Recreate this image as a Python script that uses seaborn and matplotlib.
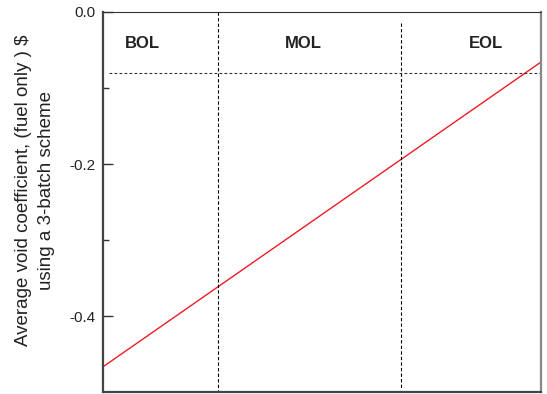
import numpy as np
import pandas as pd
import matplotlib
matplotlib.use("Agg")
import matplotlib.pyplot as plt
import seaborn as sns

# data (x in % of cycle length, y in $)
cycle_x = [0.0, 100.0]
void_coef = [-0.466, -0.066]
phase_bounds = [26.2, 68.0]
phase_labels = ["BOL", "MOL", "EOL"]
phase_label_x = [8.9, 45.6, 87.4]
phase_label_y = -0.042
limit_y = -0.08
y_ticks = [0.0, -0.2, -0.4]
y_tick_labels = ["0.0", "-0.2", "-0.4"]

sns.set_style("ticks")
plt.rcParams['font.family'] = ['Liberation Sans', 'DejaVu Sans']

fig = plt.figure(figsize=(5.47, 3.94), dpi=100)
ax = fig.add_axes([0.189, 0.004, 0.8, 0.966])

df = pd.DataFrame({"x": cycle_x, "y": void_coef})
sns.lineplot(data=df, x="x", y="y", color="#ee1c24", linewidth=1.0, ax=ax)

# phase boundaries
ax.plot([phase_bounds[0]] * 2, [0.0, -0.5], color="black", lw=0.8, ls=(0, (3, 2)))
ax.plot([phase_bounds[1]] * 2, [-0.0145, -0.495], color="black", lw=0.8, ls=(0, (3, 2)))
ax.plot([1.3, 100], [limit_y] * 2, color="#333333", lw=0.8, ls=(0, (2.5, 2)))

for lab, xx in zip(phase_labels, phase_label_x):
    ax.text(xx, phase_label_y, lab, ha="center", va="center",
            fontsize=12, fontweight="bold", color="#222222")

ax.set_xlim(0, 100)
ax.set_ylim(-0.5, 0.0)
ax.set_xticks([])
ax.set_yticks(y_ticks)
ax.set_yticklabels(y_tick_labels)
ax.set_yticks([-0.1, -0.3], minor=True)
ax.tick_params(axis="y", which="major", direction="in", length=7, width=1,
               labelsize=11, pad=6, colors="#333333", labelcolor="#222222")
ax.tick_params(axis="y", which="minor", direction="in", length=4, width=1,
               colors="#333333")
ax.set_xlabel("")
ax.set_ylabel("Average void coefficient, (fuel only ) $\nusing a 3-batch scheme",
              fontsize=13.5, color="#222222", linespacing=1.45, va="center")
ax.yaxis.set_label_coords(-0.157, 0.53)

for side in ["left", "bottom"]:
    ax.spines[side].set_linewidth(1.6)
    ax.spines[side].set_color("#444444")
ax.spines["top"].set_linewidth(0.8)
ax.spines["top"].set_color("#333333")
ax.spines["right"].set_linewidth(1.6)
ax.spines["right"].set_color("#888888")

fig.savefig("out.png", dpi=100)
